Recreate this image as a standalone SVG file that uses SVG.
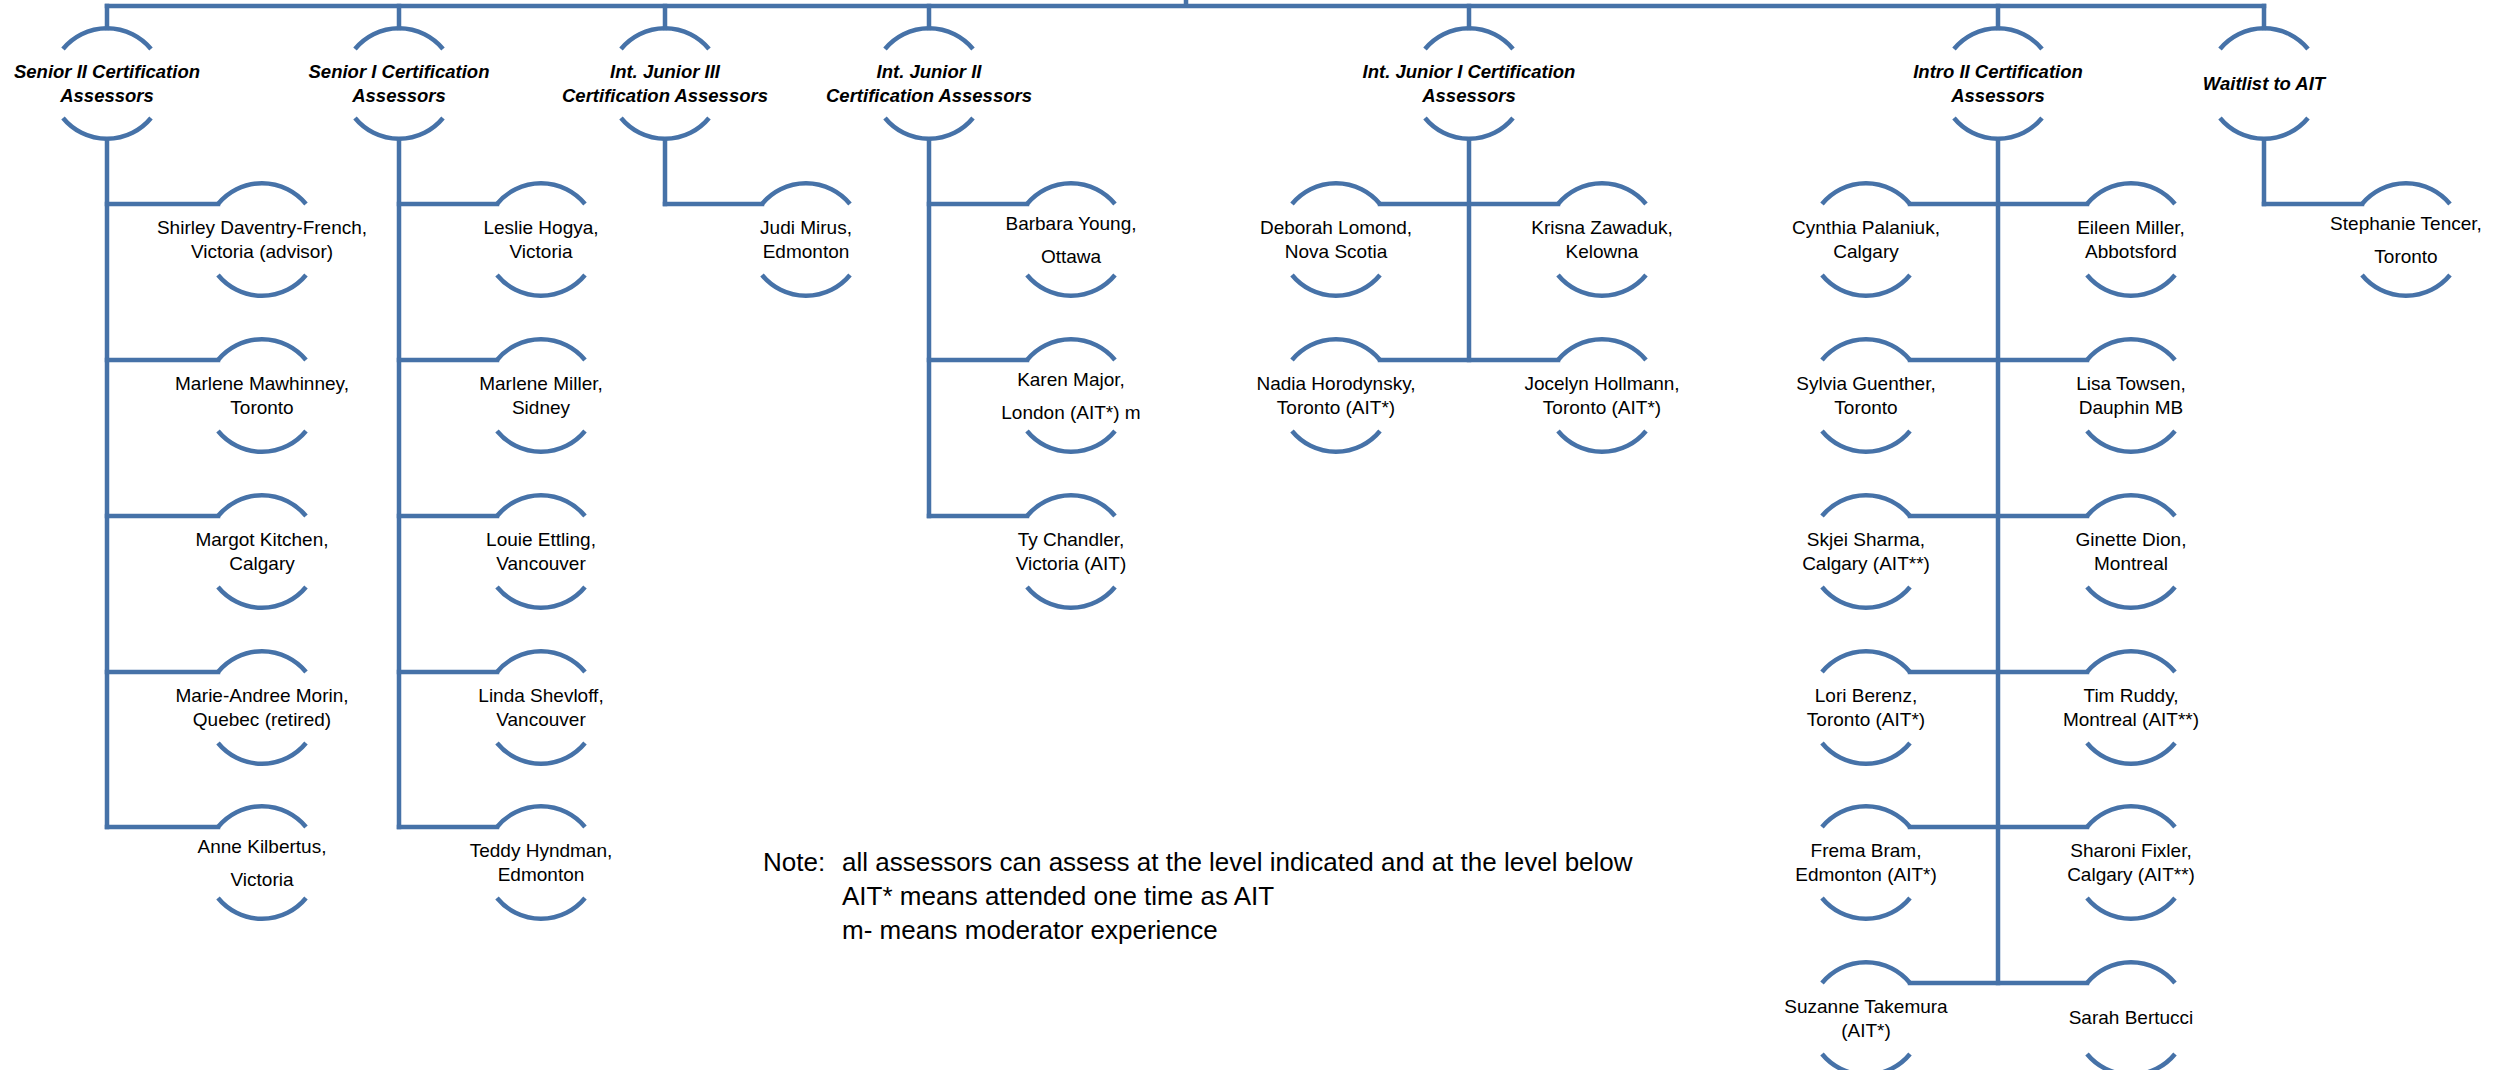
<svg xmlns="http://www.w3.org/2000/svg" width="2512" height="1070" viewBox="0 0 2512 1070">
<style>
.bg{fill:#ffffff}
.arc{fill:none;stroke:#4672a8;stroke-width:4.5;stroke-linecap:butt}
.con{fill:none;stroke:#4672a8;stroke-width:4.5;stroke-linecap:square;stroke-linejoin:miter}
.t{font-family:"Liberation Sans",Arial,sans-serif;font-size:19px;fill:#000;text-anchor:middle}
.h{font-family:"Liberation Sans",Arial,sans-serif;font-size:18.5px;font-weight:bold;font-style:italic;fill:#000;text-anchor:middle}
.note{font-family:"Liberation Sans",Arial,sans-serif;font-size:26px;fill:#000}
</style>
<defs>
<path id="top" class="arc" d="M-44 0A57 57 0 0 1 44 0"/>
<path id="bot" class="arc" d="M-44 0A57 57 0 0 0 44 0"/>
</defs>
<rect class="bg" x="0" y="0" width="2512" height="1070"/>

<g id="connectors">
<path class="con" d="M107 6H2264M1186 0V6"/>
<path class="con" d="M107 6V28M399 6V28M665 6V28M929 6V28M1469 6V28M1998 6V28M2264 6V28"/>
<path class="con" d="M107 140V827M399 140V827M665 140V204M929 140V516M1469 140V360M1998 140V983M2264 140V204"/>
<path class="con" d="M107 204H218M107 360H218M107 516H218M107 672H218M107 827H218"/>
<path class="con" d="M399 204H497M399 360H497M399 516H497M399 672H497M399 827H497"/>
<path class="con" d="M665 204H762"/>
<path class="con" d="M929 204H1027M929 360H1027M929 516H1027"/>
<path class="con" d="M1380 204H1558M1380 360H1558"/>
<path class="con" d="M1910 204H2087M1910 360H2087M1910 516H2087M1910 672H2087M1910 827H2087M1910 983H2087"/>
<path class="con" d="M2264 204H2362"/>
</g>

<!-- Title nodes -->
<g id="t-senior2"><use href="#top" x="107" y="49"/><use href="#bot" x="107" y="118"/><text class="h" x="107" y="78">Senior II Certification<tspan x="107" dy="24">Assessors</tspan></text></g>
<g id="t-senior1"><use href="#top" x="399" y="49"/><use href="#bot" x="399" y="118"/><text class="h" x="399" y="78">Senior I Certification<tspan x="399" dy="24">Assessors</tspan></text></g>
<g id="t-intjr3"><use href="#top" x="665" y="49"/><use href="#bot" x="665" y="118"/><text class="h" x="665" y="78">Int. Junior III<tspan x="665" dy="24">Certification Assessors</tspan></text></g>
<g id="t-intjr2"><use href="#top" x="929" y="49"/><use href="#bot" x="929" y="118"/><text class="h" x="929" y="78">Int. Junior II<tspan x="929" dy="24">Certification Assessors</tspan></text></g>
<g id="t-intjr1"><use href="#top" x="1469" y="49"/><use href="#bot" x="1469" y="118"/><text class="h" x="1469" y="78">Int. Junior I Certification<tspan x="1469" dy="24">Assessors</tspan></text></g>
<g id="t-intro2"><use href="#top" x="1998" y="49"/><use href="#bot" x="1998" y="118"/><text class="h" x="1998" y="78">Intro II Certification<tspan x="1998" dy="24">Assessors</tspan></text></g>
<g id="t-waitlist"><use href="#top" x="2264" y="49"/><use href="#bot" x="2264" y="118"/><text class="h" x="2264" y="90">Waitlist to AIT</text></g>

<!-- Senior II children -->
<g id="n-daventry"><use href="#top" x="262" y="204"/><use href="#bot" x="262" y="275"/><text class="t" x="262" y="234">Shirley Daventry-French,<tspan x="262" dy="24">Victoria (advisor)</tspan></text></g>
<g id="n-mawhinney"><use href="#top" x="262" y="360"/><use href="#bot" x="262" y="431"/><text class="t" x="262" y="390">Marlene Mawhinney,<tspan x="262" dy="24">Toronto</tspan></text></g>
<g id="n-kitchen"><use href="#top" x="262" y="516"/><use href="#bot" x="262" y="587"/><text class="t" x="262" y="546">Margot Kitchen,<tspan x="262" dy="24">Calgary</tspan></text></g>
<g id="n-morin"><use href="#top" x="262" y="672"/><use href="#bot" x="262" y="743"/><text class="t" x="262" y="702">Marie-Andree Morin,<tspan x="262" dy="24">Quebec (retired)</tspan></text></g>
<g id="n-kilbertus"><use href="#top" x="262" y="827"/><use href="#bot" x="262" y="898"/><text class="t" x="262" y="853">Anne Kilbertus,<tspan x="262" dy="33">Victoria</tspan></text></g>

<!-- Senior I children -->
<g id="n-hogya"><use href="#top" x="541" y="204"/><use href="#bot" x="541" y="275"/><text class="t" x="541" y="234">Leslie Hogya,<tspan x="541" dy="24">Victoria</tspan></text></g>
<g id="n-miller"><use href="#top" x="541" y="360"/><use href="#bot" x="541" y="431"/><text class="t" x="541" y="390">Marlene Miller,<tspan x="541" dy="24">Sidney</tspan></text></g>
<g id="n-ettling"><use href="#top" x="541" y="516"/><use href="#bot" x="541" y="587"/><text class="t" x="541" y="546">Louie Ettling,<tspan x="541" dy="24">Vancouver</tspan></text></g>
<g id="n-shevloff"><use href="#top" x="541" y="672"/><use href="#bot" x="541" y="743"/><text class="t" x="541" y="702">Linda Shevloff,<tspan x="541" dy="24">Vancouver</tspan></text></g>
<g id="n-hyndman"><use href="#top" x="541" y="827"/><use href="#bot" x="541" y="898"/><text class="t" x="541" y="857">Teddy Hyndman,<tspan x="541" dy="24">Edmonton</tspan></text></g>

<!-- Int. Junior III child -->
<g id="n-mirus"><use href="#top" x="806" y="204"/><use href="#bot" x="806" y="275"/><text class="t" x="806" y="234">Judi Mirus,<tspan x="806" dy="24">Edmonton</tspan></text></g>

<!-- Int. Junior II children -->
<g id="n-young"><use href="#top" x="1071" y="204"/><use href="#bot" x="1071" y="275"/><text class="t" x="1071" y="230">Barbara Young,<tspan x="1071" dy="33">Ottawa</tspan></text></g>
<g id="n-major"><use href="#top" x="1071" y="360"/><use href="#bot" x="1071" y="431"/><text class="t" x="1071" y="386">Karen Major,<tspan x="1071" dy="33">London (AIT*) m</tspan></text></g>
<g id="n-chandler"><use href="#top" x="1071" y="516"/><use href="#bot" x="1071" y="587"/><text class="t" x="1071" y="546">Ty Chandler,<tspan x="1071" dy="24">Victoria (AIT)</tspan></text></g>

<!-- Int. Junior I children -->
<g id="n-lomond"><use href="#top" x="1336" y="204"/><use href="#bot" x="1336" y="275"/><text class="t" x="1336" y="234">Deborah Lomond,<tspan x="1336" dy="24">Nova Scotia</tspan></text></g>
<g id="n-zawaduk"><use href="#top" x="1602" y="204"/><use href="#bot" x="1602" y="275"/><text class="t" x="1602" y="234">Krisna Zawaduk,<tspan x="1602" dy="24">Kelowna</tspan></text></g>
<g id="n-horodynsky"><use href="#top" x="1336" y="360"/><use href="#bot" x="1336" y="431"/><text class="t" x="1336" y="390">Nadia Horodynsky,<tspan x="1336" dy="24">Toronto (AIT*)</tspan></text></g>
<g id="n-hollmann"><use href="#top" x="1602" y="360"/><use href="#bot" x="1602" y="431"/><text class="t" x="1602" y="390">Jocelyn Hollmann,<tspan x="1602" dy="24">Toronto (AIT*)</tspan></text></g>

<!-- Intro II children -->
<g id="n-palaniuk"><use href="#top" x="1866" y="204"/><use href="#bot" x="1866" y="275"/><text class="t" x="1866" y="234">Cynthia Palaniuk,<tspan x="1866" dy="24">Calgary</tspan></text></g>
<g id="n-emiller"><use href="#top" x="2131" y="204"/><use href="#bot" x="2131" y="275"/><text class="t" x="2131" y="234">Eileen Miller,<tspan x="2131" dy="24">Abbotsford</tspan></text></g>
<g id="n-guenther"><use href="#top" x="1866" y="360"/><use href="#bot" x="1866" y="431"/><text class="t" x="1866" y="390">Sylvia Guenther,<tspan x="1866" dy="24">Toronto</tspan></text></g>
<g id="n-towsen"><use href="#top" x="2131" y="360"/><use href="#bot" x="2131" y="431"/><text class="t" x="2131" y="390">Lisa Towsen,<tspan x="2131" dy="24">Dauphin MB</tspan></text></g>
<g id="n-sharma"><use href="#top" x="1866" y="516"/><use href="#bot" x="1866" y="587"/><text class="t" x="1866" y="546">Skjei Sharma,<tspan x="1866" dy="24">Calgary (AIT**)</tspan></text></g>
<g id="n-dion"><use href="#top" x="2131" y="516"/><use href="#bot" x="2131" y="587"/><text class="t" x="2131" y="546">Ginette Dion,<tspan x="2131" dy="24">Montreal</tspan></text></g>
<g id="n-berenz"><use href="#top" x="1866" y="672"/><use href="#bot" x="1866" y="743"/><text class="t" x="1866" y="702">Lori Berenz,<tspan x="1866" dy="24">Toronto (AIT*)</tspan></text></g>
<g id="n-ruddy"><use href="#top" x="2131" y="672"/><use href="#bot" x="2131" y="743"/><text class="t" x="2131" y="702">Tim Ruddy,<tspan x="2131" dy="24">Montreal (AIT**)</tspan></text></g>
<g id="n-bram"><use href="#top" x="1866" y="827"/><use href="#bot" x="1866" y="898"/><text class="t" x="1866" y="857">Frema Bram,<tspan x="1866" dy="24">Edmonton (AIT*)</tspan></text></g>
<g id="n-fixler"><use href="#top" x="2131" y="827"/><use href="#bot" x="2131" y="898"/><text class="t" x="2131" y="857">Sharoni Fixler,<tspan x="2131" dy="24">Calgary (AIT**)</tspan></text></g>
<g id="n-takemura"><use href="#top" x="1866" y="983"/><use href="#bot" x="1866" y="1054"/><text class="t" x="1866" y="1013">Suzanne Takemura<tspan x="1866" dy="24">(AIT*)</tspan></text></g>
<g id="n-bertucci"><use href="#top" x="2131" y="983"/><use href="#bot" x="2131" y="1054"/><text class="t" x="2131" y="1024">Sarah Bertucci</text></g>

<!-- Waitlist child -->
<g id="n-tencer"><use href="#top" x="2406" y="204"/><use href="#bot" x="2406" y="275"/><text class="t" x="2406" y="230">Stephanie Tencer,<tspan x="2406" dy="33">Toronto</tspan></text></g>

<!-- Note -->
<g id="note">
<text class="note" x="763" y="871">Note:</text>
<text class="note" x="842" y="871">all assessors can assess at the level indicated and at the level below</text>
<text class="note" x="842" y="905">AIT* means attended one time as AIT</text>
<text class="note" x="842" y="939">m- means moderator experience</text>
</g>
</svg>
